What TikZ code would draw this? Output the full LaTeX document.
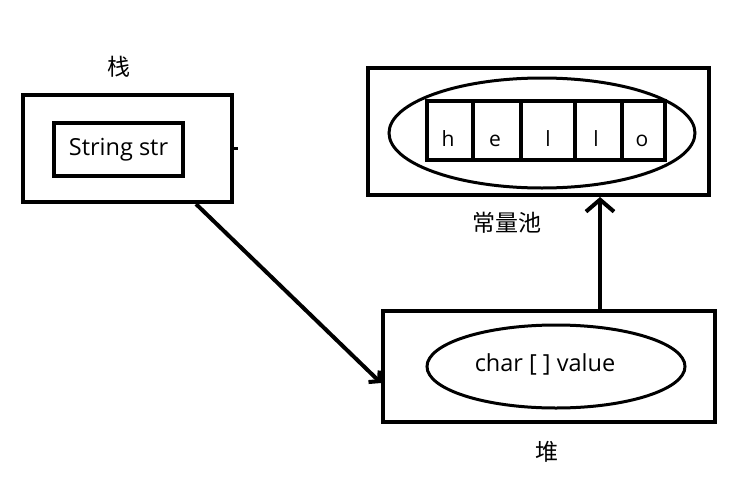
\documentclass[tikz,border=0pt]{standalone}
\usepackage{fontspec}
\setmainfont{Open Sans}
\newfontfamily\cjk{Noto Sans CJK SC}
\usetikzlibrary{arrows.meta,shapes.geometric}
\tikzset{
  box/.style={draw, line width=4pt, rectangle, inner sep=0pt},
  oval/.style={draw, line width=3pt, ellipse, inner sep=0pt},
  cell/.style={draw, line width=4pt, rectangle, inner sep=0pt, minimum height=59pt},
  letter/.style={font=\fontsize{21}{24}\selectfont, inner sep=0pt, anchor=base},
  lbl/.style={font=\fontsize{23.5}{26}\selectfont, inner sep=0pt},
  zh/.style={font=\cjk\fontsize{23}{26}\selectfont, inner sep=0pt},
  arr/.style={line width=4pt},
}
\begin{document}
\begin{tikzpicture}[x=1pt,y=-1pt]
\useasboundingbox (0,0) rectangle (756,477);
% stack
\node[box, minimum width=209pt, minimum height=107pt] (stack) at (127.5,148.5) {};
\node[box, minimum width=129pt, minimum height=53pt, lbl] (str) at (118.5,149.5) {String str};
\node[zh] (stacklbl) at (119,67) {栈};
\draw[line width=3pt] (stack.east) -- ++(4pt,0);
% constant pool
\node[box, minimum width=341pt, minimum height=127pt] (pool) at (538.5,131.5) {};
\node[oval, minimum width=306pt, minimum height=110pt] (poolov) at (542,133) {};
\node[cell, minimum width=46pt] (c1) at (450,130.5) {};
\node[cell, minimum width=48pt] (c2) at (497,130.5) {};
\node[cell, minimum width=54pt] (c3) at (548,130.5) {};
\node[cell, minimum width=47pt] (c4) at (598.5,130.5) {};
\node[cell, minimum width=43pt] (c5) at (643.5,130.5) {};
\node[letter] (t1) at (448,146) {h};
\node[letter] (t2) at (495,146) {e};
\node[letter] (t3) at (548,146) {l};
\node[letter] (t4) at (596,146) {l};
\node[letter] (t5) at (642,146) {o};
\node[zh] (poollbl) at (507,223) {常量池};
% heap
\node[box, minimum width=332pt, minimum height=111pt] (heap) at (549,366.5) {};
\node[oval, minimum width=258pt, minimum height=83pt] (heapov) at (556,366.5) {};
\node[lbl] (heaptxt) at (545,364) {char [ ] value};
\node[zh] (heaplbl) at (547,452) {堆};
% arrows
\draw[arr, -{Straight Barb[length=7pt,width=16pt]}] ([xshift=175pt]stack.south west) -- ([yshift=-16.5pt]heap.west);
\draw[arr, -{Straight Barb[length=12pt,width=28pt]}] ([xshift=51pt]heap.north) -- ([xshift=51pt]heap.north |- pool.south);
\end{tikzpicture}
\end{document}
